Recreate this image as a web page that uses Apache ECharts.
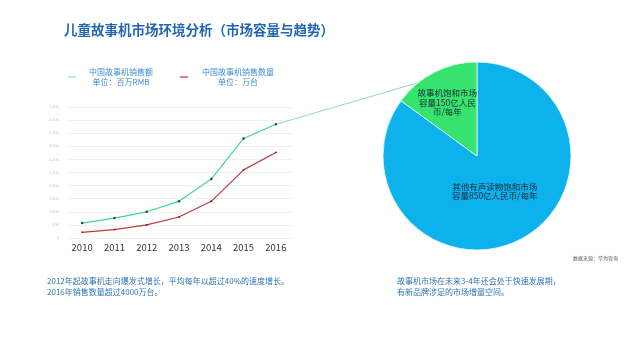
<!DOCTYPE html>
<html><head><meta charset="utf-8">
<script src="https://cdn.jsdelivr.net/npm/echarts@6/dist/echarts.min.js"></script>
<style>html,body{margin:0;padding:0;background:#fff}#c{width:640px;height:360px}</style>
</head><body><div id="c"></div>
<script>
var years = ['2010','2011','2012','2013','2014','2015','2016'];
var salesAmount = [570, 760, 1000, 1400, 2250, 3800, 4340];
var salesVolume = [215, 320, 500, 800, 1400, 2600, 3260];
var pieNames = ['其他有声读物饱和市场\n容量850亿人民币/每年', '故事机饱和市场\n容量150亿人民\n币/每年'];
var pieValues = [850, 150];
var seriesNames = ['中国故事机销售额\n单位：百万RMB', '中国故事机销售数量\n单位：万台'];

var FONT = '"Noto Sans CJK SC", "Noto Sans", sans-serif';
var chart = echarts.init(document.getElementById('c'), null, {renderer:'canvas'});
var pieCenter = [477, 156], pieR = 94;

function legendFor(i, left, w, color) {
  return {
    left: left, top: 63, orient: 'horizontal', icon: 'rect', itemWidth: 8, itemHeight: 1.5,
    data: [{name: seriesNames[i], itemStyle: {color: color, borderWidth: 0}}],
    formatter: function (n) { var p = n.split('\n'); return '{t|' + p[0] + '}\n{t|' + p[1] + '}'; },
    textStyle: {color: '#3b8dd4', fontSize: 8, fontFamily: FONT,
      rich: {t: {width: w, align: 'center', fontSize: 8, lineHeight: 10, color: '#3b8dd4', fontFamily: FONT}}},
    selectedMode: false
  };
}

var option = {
  backgroundColor: '#fff',
  animation: false,
  title: {text: '儿童故事机市场环境分析（市场容量与趋势）', left: 59, top: 18,
    textStyle: {color: '#2266b0', fontSize: 13.5, fontWeight: 'bold', fontFamily: FONT}},
  legend: [legendFor(0, 63, 80, '#a8e6c6'), legendFor(1, 175, 90, '#d05a5a')],
  grid: {left: 66, right: 348, top: 107, bottom: 122},
  xAxis: {type: 'category', data: years, boundaryGap: true,
    axisLine: {show: false}, axisTick: {show: false},
    axisLabel: {color: '#333', fontSize: 9.5, margin: 5, fontFamily: FONT}},
  yAxis: {type: 'value', min: 0, max: 5000, interval: 500,
    axisLine: {show: false}, axisTick: {show: false},
    axisLabel: {color: '#c8c8c8', fontSize: 4, margin: 7},
    splitLine: {lineStyle: {color: '#f0f0f0', width: 1}}},
  series: [
    {type: 'line', name: seriesNames[0], data: salesAmount, symbol: 'circle', symbolSize: 2.5,
      itemStyle: {color: '#2d4a3e'}, lineStyle: {color: '#45d68f', width: 1.2}},
    {type: 'line', name: seriesNames[1], data: salesVolume, symbol: 'circle', symbolSize: 2,
      itemStyle: {color: '#7a2a2a'}, lineStyle: {color: '#b83c3c', width: 1.2}},
    {type: 'pie', center: pieCenter, radius: pieR, startAngle: 90, clockwise: true, z: 3,
      data: pieNames.map(function (n, i) { return {name: n, value: pieValues[i]}; }),
      color: ['#0db1ec', '#36e36c'],
      itemStyle: {borderColor: '#e8fff4', borderWidth: 0.8},
      label: {show: true, position: 'inside', formatter: '{b}', color: '#1a2a3a',
        fontSize: 8.5, lineHeight: 9.2, fontFamily: FONT, align: 'center'},
      labelLine: {show: false},
      labelLayout: function (p) { return p.dataIndex === 1 ? {dx: -3.5, dy: -4.5} : {dx: -2.5, dy: -4.5}; },
      emphasis: {disabled: true}, silent: true}
  ],
  graphic: [
    {type: 'text', left: 47, top: 275, style: {text: '2012年起故事机走向爆发式增长，平均每年以超过40%的速度增长。\n2016年销售数量超过4000万台。',
      fill: '#2f75b5', fontSize: 8, lineHeight: 11.6, fontFamily: FONT}},
    {type: 'text', left: 397, top: 275, style: {text: '故事机市场在未来3-4年还会处于快速发展期，\n有新品牌涉足的市场增量空间。',
      fill: '#2f75b5', fontSize: 8, lineHeight: 11.6, fontFamily: FONT}},
    {type: 'text', left: 573, top: 256, style: {text: '数据来源：华为咨询', fill: '#555', fontSize: 5, fontFamily: FONT}}
  ]
};
chart.setOption(option);

// decorative callout from last sales point to the pie edge
var p0 = chart.convertToPixel({gridIndex: 0}, [years.length - 1, salesAmount[salesAmount.length - 1]]);
var ang = 38.7 * Math.PI / 180;
var p1 = [pieCenter[0] - pieR * Math.sin(ang), pieCenter[1] - pieR * Math.cos(ang)];
var g = option.graphic.slice();
g.push({type: 'line', z: 1, shape: {x1: p0[0], y1: p0[1], x2: p1[0], y2: p1[1]}, style: {stroke: '#7fdcaa', lineWidth: 0.9}});
chart.setOption({graphic: g});
</script></body></html>
